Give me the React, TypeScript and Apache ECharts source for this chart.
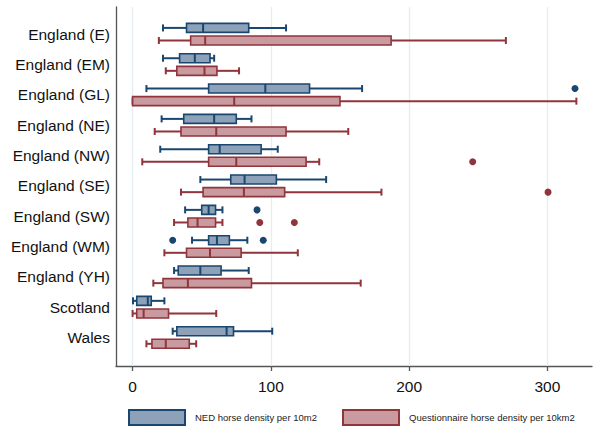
import React, { useEffect, useRef } from "react";
import * as echarts from "echarts";

const categories = [
  "England (E)",
  "England (EM)",
  "England (GL)",
  "England (NE)",
  "England (NW)",
  "England (SE)",
  "England (SW)",
  "England (WM)",
  "England (YH)",
  "Scotland",
  "Wales",
];

// [whisker low, Q1, median, Q3, whisker high]
const nedBoxes = [
  [22, 39, 51, 84, 111],
  [22, 34, 45, 56, 59],
  [10, 55, 96, 128, 166],
  [21, 37, 59, 75, 86],
  [20, 55, 63, 93, 105],
  [49, 71, 81, 104, 140],
  [38, 50, 55, 60, 65],
  [43, 55, 61, 70, 83],
  [30, 33, 49, 64, 84],
  [0.3, 3, 11, 13.5, 23],
  [29, 32, 68, 73, 101],
];

const questBoxes = [
  [19, 42, 52.5, 187, 270],
  [24, 32, 52, 61, 77],
  [0, 0, 73.5, 150, 321],
  [16, 35, 60.5, 111, 156],
  [7, 55, 75, 125.5, 135],
  [35, 51, 80.5, 110, 180],
  [30, 40, 47, 60, 65],
  [23, 39, 56, 78.5, 119.5],
  [15, 22, 40, 86, 165],
  [0, 3, 8, 26, 60.5],
  [10, 14, 24, 41, 46],
];

// [value, category index]
const nedOutliers = [
  [320, 2],
  [90, 6],
  [29, 7],
  [94.5, 7],
];
const questOutliers = [
  [246, 4],
  [300.5, 5],
  [92, 6],
  [117, 6],
];

const xTicks = [0, 100, 200, 300];

const NED_NAME = "NED horse density per 10m2";
const Q_NAME = "Questionnaire horse density per 10km2";

const BLUE = "#1a476f";
const BLUE_FILL = "#8da1b8";
const RED = "#90353b";
const RED_FILL = "#c99aa0";
const FONT = "'Liberation Sans', Arial, sans-serif";

function makeRender(offset: number, stroke: string, fill: string) {
  return (params: any, api: any) => {
    const idx = api.value(0);
    const low = api.value(1);
    const q1 = api.value(2);
    const med = api.value(3);
    const q3 = api.value(4);
    const high = api.value(5);
    const yc = api.coord([0, idx])[1] + offset;
    const x = (v: number) => api.coord([v, idx])[0];
    const hh = 4.5;
    const ch = 3.5;
    const ls = { stroke, lineWidth: 2 };
    return {
      type: "group",
      children: [
        { type: "line", shape: { x1: x(low), y1: yc, x2: x(q1), y2: yc }, style: ls },
        { type: "line", shape: { x1: x(q3), y1: yc, x2: x(high), y2: yc }, style: ls },
        { type: "line", shape: { x1: x(low), y1: yc - ch, x2: x(low), y2: yc + ch }, style: ls },
        { type: "line", shape: { x1: x(high), y1: yc - ch, x2: x(high), y2: yc + ch }, style: ls },
        {
          type: "rect",
          shape: { x: x(q1), y: yc - hh, width: x(q3) - x(q1), height: hh * 2 },
          style: { fill, stroke, lineWidth: 1.6 },
        },
        { type: "line", shape: { x1: x(med), y1: yc - hh, x2: x(med), y2: yc + hh }, style: ls },
      ],
    };
  };
}

export default function App() {
  const ref = useRef<HTMLDivElement>(null);
  useEffect(() => {
    if (!ref.current) return;
    const chart = echarts.init(ref.current, undefined, { renderer: "svg" });
    const nedData = nedBoxes.map((b, i) => [i, ...b]);
    const qData = questBoxes.map((b, i) => [i, ...b]);
    const legendBase = {
      top: 404,
      itemWidth: 56,
      itemHeight: 15,
      selectedMode: false,
      textStyle: { fontSize: 9.5, color: "#222222", fontFamily: FONT, padding: [0, 0, 0, 5] },
    };
    chart.setOption({
      animation: false,
      backgroundColor: "#ffffff",
      grid: { left: 116, right: 8, top: 7, bottom: 69 },
      xAxis: {
        type: "value",
        min: -12,
        max: 332.3,
        axisLine: { show: true, onZero: false, lineStyle: { color: "#555555", width: 1.3 } },
        axisTick: { show: true, customValues: xTicks, length: 5, lineStyle: { color: "#555555", width: 1.3 } },
        axisLabel: {
          customValues: xTicks,
          fontSize: 15.5,
          color: "#111111",
          fontFamily: FONT,
          margin: 12,
        },
        splitLine: { show: false },
      },
      yAxis: {
        type: "value",
        inverse: true,
        min: -0.897,
        max: 10.94,
        axisLine: { show: true, onZero: false, lineStyle: { color: "#555555", width: 1.3 } },
        axisTick: { show: false },
        splitLine: { show: false },
        axisLabel: {
          customValues: categories.map((_, i) => i),
          formatter: (v: number) => categories[Math.round(v)] ?? "",
          fontSize: 15.5,
          color: "#111111",
          fontFamily: FONT,
          margin: 6,
        },
      },
      legend: [
        {
          ...legendBase,
          left: 123,
          data: [
            {
              name: NED_NAME,
              icon: "rect",
              itemStyle: { color: BLUE_FILL, borderColor: BLUE, borderWidth: 2 },
            },
          ],
        },
        {
          ...legendBase,
          left: 337,
          data: [
            {
              name: Q_NAME,
              icon: "rect",
              itemStyle: { color: RED_FILL, borderColor: RED, borderWidth: 2 },
            },
          ],
        },
      ],
      series: [
        {
          name: NED_NAME,
          type: "custom",
          renderItem: makeRender(-6.3, BLUE, BLUE_FILL),
          encode: { x: [1, 2, 3, 4, 5], y: 0 },
          itemStyle: { color: BLUE_FILL, borderColor: BLUE },
          data: nedData,
          z: 3,
          markLine: {
            silent: true,
            symbol: ["none", "none"],
            label: { show: false },
            lineStyle: { color: "#e4eef2", width: 1.3, type: "solid" },
            data: xTicks.map((v) => ({ xAxis: v })),
            z: 1,
          },
        },
        {
          name: Q_NAME,
          type: "custom",
          renderItem: makeRender(6.3, RED, RED_FILL),
          encode: { x: [1, 2, 3, 4, 5], y: 0 },
          itemStyle: { color: RED_FILL, borderColor: RED },
          data: qData,
          z: 3,
        },
        {
          name: NED_NAME + " outliers",
          type: "scatter",
          symbol: "circle",
          symbolSize: 7,
          symbolOffset: [0, -6.3],
          itemStyle: { color: BLUE, opacity: 1 },
          data: nedOutliers,
          z: 4,
        },
        {
          name: Q_NAME + " outliers",
          type: "scatter",
          symbol: "circle",
          symbolSize: 7,
          symbolOffset: [0, 6.3],
          itemStyle: { color: RED, opacity: 1 },
          data: questOutliers,
          z: 4,
        },
      ],
    });
    return () => chart.dispose();
  }, []);
  return (
    <div
      ref={ref}
      style={{ position: "absolute", left: 0, top: 0, width: 600, height: 435, background: "#fff" }}
    />
  );
}
